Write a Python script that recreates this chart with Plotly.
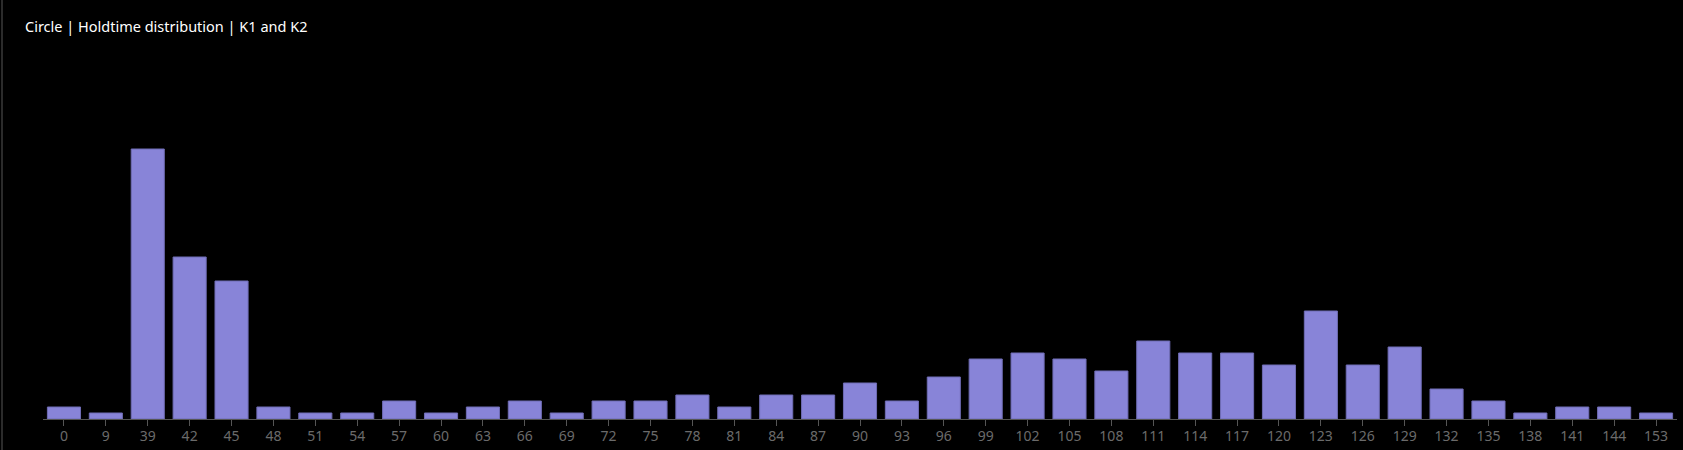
import plotly.graph_objects as go

categories = ["0", "9", "39", "42", "45", "48", "51", "54", "57", "60", "63", "66", "69",
              "72", "75", "78", "81", "84", "87", "90", "93", "96", "99", "102", "105",
              "108", "111", "114", "117", "120", "123", "126", "129", "132", "135", "138",
              "141", "144", "153"]
counts = [2, 1, 45, 27, 23, 2, 1, 1, 3, 1, 2, 3, 1,
          3, 3, 4, 2, 4, 4, 6, 3, 7, 10, 11, 10,
          8, 13, 11, 11, 9, 18, 9, 12, 5, 3, 1,
          2, 2, 1]
title_text = "Circle | Holdtime distribution | K1 and K2"

W, H = 1683, 450
L, R, T, B = 43, 6, 59, 31
pw = W - L - R
ph = H - T - B

fig = go.Figure()
fig.add_trace(go.Bar(
    x=categories, y=counts,
    marker=dict(color="#8884d8", line=dict(color="#6f6cb4", width=1)),
    hoverinfo="x+y",
))

fig.update_layout(
    width=W, height=H,
    margin=dict(l=L, r=R, t=T, b=B, pad=0),
    paper_bgcolor="#000000",
    plot_bgcolor="#000000",
    bargap=0.21,
    showlegend=False,
    font=dict(family="Noto Sans, Open Sans, sans-serif"),
    xaxis=dict(
        type="category",
        showgrid=False, zeroline=False,
        showline=True, linecolor="#555555", linewidth=1,
        ticks="outside", ticklen=6, tickcolor="#555555", tickwidth=1,
        tickfont=dict(color="#6b6b6b", size=14),
        ticklabelstandoff=-2,
        fixedrange=True,
    ),
    yaxis=dict(
        range=[0, 60], visible=False, showgrid=False, zeroline=False,
        fixedrange=True,
    ),
    annotations=[dict(
        text=title_text, xref="paper", yref="paper",
        x=(23 - L) / pw, y=(H - B - 26) / ph,
        xanchor="left", yanchor="middle", showarrow=False,
        font=dict(color="#ffffff", size=14.5, family="Noto Sans, Open Sans, sans-serif"),
    )],
    shapes=[dict(
        type="line", xref="paper", yref="paper",
        x0=(2 - L) / pw, x1=(2 - L) / pw,
        y0=(H - B - H) / ph, y1=(H - B) / ph,
        line=dict(color="#3a3a3a", width=1.5),
    )],
)

fig.write_html(
    "out.html",
    config={"displayModeBar": False},
    post_script="document.body.style.margin='0';document.body.style.padding='0';"
                "document.body.style.background='#000';"
                "document.documentElement.style.background='#000';"
                "document.body.style.overflow='hidden';",
)
